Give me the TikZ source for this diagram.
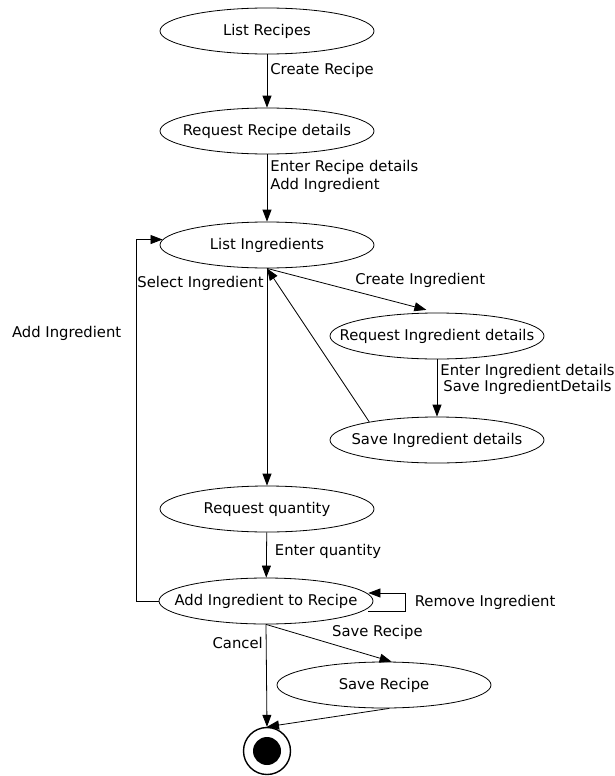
\documentclass[tikz,border=0pt]{standalone}
\usepackage{fontspec}
\setmainfont{DejaVu Sans}
\usetikzlibrary{arrows.meta, shapes.geometric, calc}

\begin{document}
\begin{tikzpicture}[x=1pt,y=-1pt,>={Triangle[length=12pt,width=9pt]},line width=0.8pt,
    every node/.style={font=\fontsize{14.8}{17.5}\selectfont},
    state/.style={ellipse,draw,minimum width=214pt,minimum height=46pt,
      inner xsep=-32pt,inner ysep=0pt},
    lbl/.style={inner sep=3pt}]
  \useasboundingbox (0,0) rectangle (614,776);

  % states
  \node[state] (lr)  at (267,31)  {List Recipes};
  \node[state] (rrd) at (267,131) {Request Recipe details};
  \node[state] (li)  at (267,245) {List Ingredients};
  \node[state] (rid) at (437,336) {Request Ingredient details};
  \node[state] (sid) at (437,440) {Save Ingredient details};
  \node[state] (rq)  at (267,509) {Request quantity};
  \node[state] (ai)  at (266,601) {Add Ingredient to Recipe};
  \node[state] (sr)  at (384,685) {Save Recipe};

  % final state
  \node[circle,draw,line width=1.4pt,minimum size=47pt,inner sep=0pt] (fin) at (267,751) {};
  \node[circle,fill,minimum size=28pt,inner sep=0pt] (findot) at (fin) {};

  % transitions
  \draw[->] (lr) -- node[lbl,right,pos=.3]{Create Recipe} (rrd);
  \draw[->] (rrd) -- node[lbl,right,pos=.33,align=left]
    {Enter Recipe details\\Add Ingredient} (li);
  \draw[->] (li.south) -- node[lbl,left,pos=.07]{Select Ingredient} (rq);
  \draw[->,shorten >=11pt] (li.south)
    -- node[lbl,above right,pos=.5]{Create Ingredient} (rid.north);
  \draw[->] (rid) -- node[lbl,right,pos=.35,align=center,
    font=\fontsize{14.8}{15.5}\selectfont]
    {Enter Ingredient details\\Save IngredientDetails} (sid);
  \draw[->] (sid.165) -- (li.south);
  \draw[->] (rq) -- node[lbl,right,pos=.43,xshift=5pt]{Enter quantity} (ai);
  \draw[->] (ai.west) -- ++(-22,0)
    |- node[lbl,left,pos=.37,xshift=-12pt]{Add Ingredient} (li.177);
  \draw[->] ($(ai.east)+(-5,10)$) -- ++(37,0)
    |- node[lbl,right,pos=.25,xshift=6pt]{Remove Ingredient} ($(ai.east)+(-5,-8)$);
  \draw[->] (ai.south) -- node[lbl,left,pos=.18]{Cancel} (fin.north);
  \draw[->] (ai.south) -- node[lbl,above right,pos=.5]{Save Recipe} (sr.72);
  \draw[->] (sr.-77) -- (fin.north);
\end{tikzpicture}
\end{document}
